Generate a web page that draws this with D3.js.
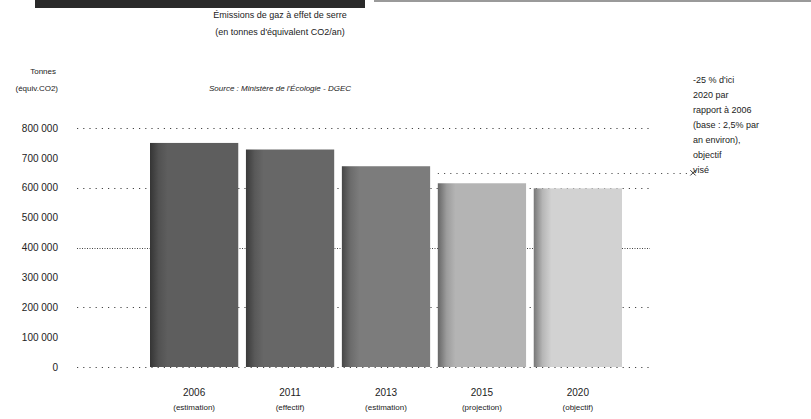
<!DOCTYPE html>
<html>
<head>
<meta charset="utf-8">
<script src="https://cdn.jsdelivr.net/npm/d3@7"></script>
<style>
    body { margin: 0; background: #fff; }
    #chart text { font-family: "Liberation Sans", Arial, sans-serif; fill: #222; }
</style>
</head>
<body>
<div id="chart"></div>
<script>
var years = ['2006', '2011', '2013', '2015', '2020'];
var notes = ['(estimation)', '(effectif)', '(estimation)', '(projection)', '(objectif)'];
var emissions = [750000, 728000, 672000, 615000, 598000];
var yTicks = [0, 100000, 200000, 300000, 400000, 500000, 600000, 700000, 800000];
var gridTicks = [0, 200000, 400000, 600000, 800000];
var targetValue = 650000;
var sideNote = ['-25 % d\'ici', '2020 par', 'rapport à 2006', '(base : 2,5% par', 'an environ),', 'objectif', 'visé'];

(function(d3) {
    'use strict';

    var settings = {
        width: 811,
        height: 419,
        plot: { left: 77, right: 650, top: 128, bottom: 367 },
        bars: { left: 150, right: 622 },
        labelRight: 58,
        fills: ['#5e5e5e', '#676767', '#7c7c7c', '#b4b4b4', '#d2d2d2']
    };

    var fr = d3.formatLocale({ decimal: ',', thousands: ' ', grouping: [3], currency: ['', ' €'] });
    var fmt = fr.format(',');

    var svg = d3.select('#chart').append('svg')
        .attr('width', settings.width)
        .attr('height', settings.height);

    var x = d3.scaleBand()
        .domain(years)
        .range([settings.bars.left, settings.bars.right])
        .paddingInner(0.08)
        .paddingOuter(0);

    var y = d3.scaleLinear()
        .domain([0, 800000])
        .range([settings.plot.bottom, settings.plot.top]);

    // top banner
    svg.append('rect').attr('x', 35).attr('y', 0).attr('width', 330).attr('height', 8).attr('fill', '#2a2a2a');
    svg.append('rect').attr('x', 374).attr('y', 0).attr('width', 437).attr('height', 2).attr('fill', '#9a9a9a');

    // titles
    var titles = svg.append('g').attr('text-anchor', 'middle').style('font-size', '9px');
    titles.append('text').attr('x', 280).attr('y', 18).text('Émissions de gaz à effet de serre');
    titles.append('text').attr('x', 280).attr('y', 35).text('(en tonnes d\'équivalent CO2/an)');
    titles.append('text').attr('x', 280).attr('y', 91).style('font-style', 'italic').style('font-size', '8px')
        .text('Source : Ministère de l\'Écologie - DGEC');

    svg.append('text').attr('x', settings.labelRight - 2).attr('y', 74).attr('text-anchor', 'end').style('font-size', '8px').text('Tonnes');
    svg.append('text').attr('x', settings.labelRight).attr('y', 91).attr('text-anchor', 'end').style('font-size', '8px').text('(équiv.CO2)');

    // grid
    svg.append('g').selectAll('line')
        .data(gridTicks)
        .enter().append('line')
        .attr('x1', settings.plot.left)
        .attr('x2', settings.plot.right)
        .attr('y1', function(d) { return Math.round(y(d)) + 0.5; })
        .attr('y2', function(d) { return Math.round(y(d)) + 0.5; })
        .attr('stroke', '#444')
        .attr('stroke-dasharray', function(d) { return d === 400000 ? '1,1.5' : '1.2,5'; });

    // y axis labels
    var yAxis = d3.axisLeft(y).tickValues(yTicks).tickFormat(fmt).tickSize(0).tickPadding(0);
    svg.append('g')
        .attr('transform', 'translate(' + settings.labelRight + ',0)')
        .call(yAxis)
        .call(function(g) { g.select('.domain').remove(); })
        .selectAll('text')
        .style('font-size', '10px')
        .style('font-family', '"Liberation Sans", Arial, sans-serif');

    // bar gradients (darker left edge)
    var defs = svg.append('defs');
    settings.fills.forEach(function(c, i) {
        var g = defs.append('linearGradient').attr('id', 'bar' + i).attr('x1', 0).attr('x2', 1);
        g.append('stop').attr('offset', '0').attr('stop-color', d3.color(c).darker(1.6));
        g.append('stop').attr('offset', '0.1').attr('stop-color', d3.color(c).darker(0.4));
        g.append('stop').attr('offset', '0.2').attr('stop-color', c);
        g.append('stop').attr('offset', '1').attr('stop-color', c);
    });

    svg.append('g').selectAll('rect')
        .data(emissions)
        .enter().append('rect')
        .attr('x', function(d, i) { return x(years[i]); })
        .attr('y', function(d) { return y(d); })
        .attr('width', x.bandwidth())
        .attr('height', function(d) { return y(0) - y(d); })
        .attr('fill', function(d, i) { return 'url(#bar' + i + ')'; });

    // target line
    svg.append('line')
        .attr('x1', x('2015'))
        .attr('x2', 688)
        .attr('y1', Math.round(y(targetValue)) + 0.5)
        .attr('y2', Math.round(y(targetValue)) + 0.5)
        .attr('stroke', '#555')
        .attr('stroke-dasharray', '1.2,5');
    svg.append('path')
        .attr('d', d3.symbol(d3.symbolX, 20)())
        .attr('transform', 'translate(693,' + y(targetValue) + ')')
        .attr('stroke', '#333')
        .attr('fill', 'none');

    // x labels
    var xl = svg.append('g').attr('text-anchor', 'middle');
    xl.selectAll('.yr')
        .data(years)
        .enter().append('text')
        .attr('x', function(d) { return x(d) + x.bandwidth() / 2; })
        .attr('y', 396)
        .style('font-size', '10px')
        .text(function(d) { return d; });
    xl.selectAll('.nt')
        .data(notes)
        .enter().append('text')
        .attr('x', function(d, i) { return x(years[i]) + x.bandwidth() / 2; })
        .attr('y', 410)
        .style('font-size', '8px')
        .text(function(d) { return d; });

    // side note
    svg.append('g').selectAll('text')
        .data(sideNote)
        .enter().append('text')
        .attr('x', 693)
        .attr('y', function(d, i) { return 83 + i * 15; })
        .style('font-size', '9px')
        .text(function(d) { return d; });

})(window.d3);
</script>
</body>
</html>
